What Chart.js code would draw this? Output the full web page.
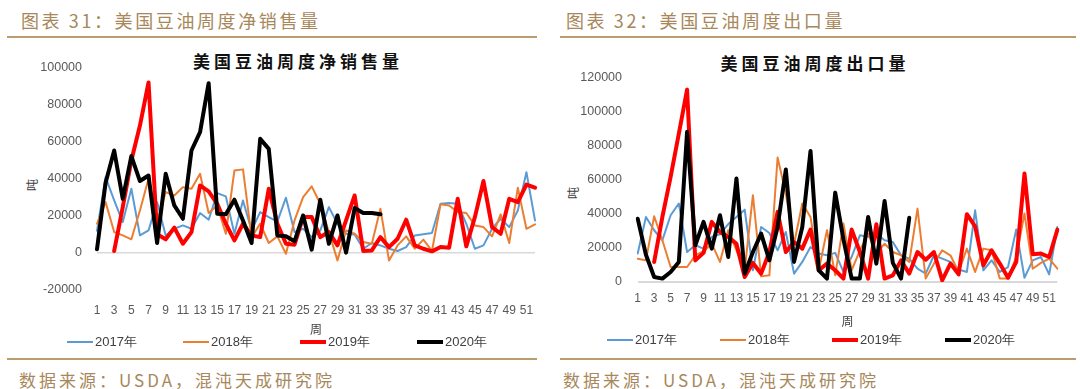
<!DOCTYPE html>
<html>
<head>
<meta charset="utf-8">
<script src="https://cdn.jsdelivr.net/npm/chart.js@4/dist/chart.umd.min.js"></script>
<style>
  body{margin:0;background:#fff;width:1080px;height:389px;position:relative;overflow:hidden;font-family:"Noto Sans CJK SC","Liberation Sans",sans-serif}
  .hd{position:absolute;top:7px;font-size:18px;letter-spacing:2.6px;color:#a8875a;white-space:nowrap}
  .rule{position:absolute;height:2px;background:#bb9c6e}
  .src{position:absolute;top:367px;font-size:17px;letter-spacing:3px;color:#a8875a;white-space:nowrap}
  .ttl{position:absolute;transform:translate(-50%,-50%);font-size:17px;font-weight:bold;letter-spacing:4px;color:#111;white-space:nowrap}
  .yt{position:absolute;transform:translate(-50%,-50%) rotate(-90deg);font-size:12px;color:#404040}
  canvas{position:absolute}
  .lg{position:absolute;display:flex;align-items:center;font-family:"Liberation Sans",sans-serif;font-size:13px;color:#404040;white-space:nowrap}
  .lg i{display:inline-block;width:26px;margin-right:2px}
</style>
</head>
<body>
<div class="hd" style="left:21px">图表 31：美国豆油周度净销售量</div>
<div class="hd" style="left:566px">图表 32：美国豆油周度出口量</div>
<div class="rule" style="left:7px;width:530px;top:36px"></div>
<div class="rule" style="left:560px;width:516px;top:36px"></div>
<div class="ttl" style="left:298px;top:60px">美国豆油周度净销售量</div>
<div class="ttl" style="left:815px;top:62px">美国豆油周度出口量</div>
<div class="yt" style="left:31px;top:185px">吨</div>
<div class="yt" style="left:572px;top:193px">吨</div>
<canvas id="sales" width="540" height="300" style="left:0;top:40px"></canvas>
<canvas id="exports" width="540" height="292" style="left:540px;top:40px"></canvas>
<div id="lg-sales"></div>
<div id="lg-exports"></div>
<div class="rule" style="left:7px;width:530px;top:358px"></div>
<div class="rule" style="left:560px;width:516px;top:358px"></div>
<div class="src" style="left:19px">数据来源：USDA，混沌天成研究院</div>
<div class="src" style="left:563px">数据来源：USDA，混沌天成研究院</div>
<script>
// weeks 1..52
const weeks = ['1','2','3','4','5','6','7','8','9','10','11','12','13','14','15','16','17','18','19','20','21','22','23','24','25','26','27','28','29','30','31','32','33','34','35','36','37','38','39','40','41','42','43','44','45','46','47','48','49','50','51','52'];
const years = ['2017年','2018年','2019年','2020年'];

// net sales (tonnes)
const sales2017 = [12000,41000,28400,16700,34700,9500,12200,27500,9500,13100,14900,13100,21600,18000,32400,30600,10400,28400,12200,22100,19400,17000,29900,11300,13100,8600,12200,24800,15800,10400,10000,2300,5400,4100,2300,1100,3200,9500,10100,10800,26600,27000,26600,15800,2300,4100,13100,18500,14000,23000,43700,17600];
const sales2018 = [15800,27500,11300,9500,7400,23000,40100,17600,32900,31100,35600,34700,42800,21600,25700,10400,44600,45200,8600,15800,5400,9000,-400,17600,30200,36000,26600,11300,-4000,12200,10400,5900,5000,23900,-4000,4100,9000,2300,7200,1100,26300,25700,22100,21600,14900,14000,9000,20900,5400,35300,13100,15500];
const sales2019 = [null,null,1100,24800,50000,68900,92200,10100,7400,13700,5000,11300,36500,33300,26600,15800,6800,15800,9500,8600,34700,15800,5000,4500,19400,19400,8600,11300,4100,17600,31100,1100,1400,8600,3200,7700,18000,4100,2300,900,3200,2900,29300,3600,19400,38900,14000,10400,29300,27500,37000,35300];
const sales2020 = [2000,38000,55400,29300,52400,38900,41900,5400,42800,25700,18500,55400,65300,91800,21200,20900,28800,17600,5400,61700,56300,9500,9000,6300,20300,1800,28800,5000,20300,200,24300,21600,21600,20900];

// exports (tonnes)
const exp2017 = [16700,38200,30400,24500,39200,46100,17600,21600,19600,26500,28000,34000,38200,42500,6900,32300,28800,18600,29400,4900,11800,20600,16700,15700,17100,5900,14700,27400,26500,28400,24500,23500,15700,13700,7800,4900,15700,13700,11800,7300,5900,42100,6900,12700,5900,8800,30800,2500,12700,14700,4500,32300];
const exp2018 = [13700,12700,38600,24500,8800,8800,8800,15700,18000,22500,11800,30400,18600,6900,51000,3300,3900,73100,51900,22500,46100,38200,6900,30400,3900,34300,6900,18600,28400,16700,22500,17600,15700,11800,43100,2000,10800,18600,15700,5900,19600,5900,19600,18600,2000,2000,14700,40200,7800,11200,13700,7800];
const exp2019 = [null,null,11800,38200,61700,87200,113000,12700,17100,35300,29400,26500,22500,2900,11200,4900,17600,41200,17600,23500,19600,30800,6900,10800,6900,2000,30800,17600,2000,33900,2000,3900,12700,4900,17600,13100,17600,1000,10800,4500,39800,32700,9800,18600,10800,2500,11800,63700,16300,16700,14700,30800];
const exp2020 = [37200,16000,2900,2000,5900,11800,88200,21600,35300,19600,39200,14700,60800,4900,17600,28400,12700,32300,66100,11800,32300,77000,6900,2000,52500,25000,2000,2000,38200,10800,47600,11200,2000,37800];

const colors = ['#5b9bd5','#ed7d31','#ff0000','#000000'];
const widths = [2,2,4,4];

function makeDatasets(series){
  return series.map((d,i)=>({
    label: years[i], data: d, borderColor: colors[i], borderWidth: widths[i],
    pointRadius: 0, tension: 0, fill: false, spanGaps: false,
    borderJoinStyle: 'round', borderCapStyle: 'round', order: 3-i
  }));
}

function makeChart(id, series, cfg){
  const tickFont = {family: '"Liberation Sans", Arial, sans-serif', size: 12.5};
  return new Chart(document.getElementById(id), {
    type: 'line',
    data: { labels: weeks, datasets: makeDatasets(series) },
    options: {
      responsive: false, animation: false,
      layout: { padding: cfg.pad },
      plugins: { legend: {display:false}, tooltip: {enabled:false}, title: {display:false} },
      scales: {
        x: {
          grid: {display:false}, border: {display:false},
          ticks: { autoSkip:false, maxRotation:0, minRotation:0, padding: cfg.xPad, color:'#595959', font: {family: tickFont.family, size: 12},
            callback: function(v,i){ return i%2===0 ? this.getLabelForValue(v) : ''; } },
          title: { display:true, text:'周', color:'#404040', font:{family:'"Noto Sans CJK SC"', size:12}, padding:{top:0,bottom:cfg.xTitle} },
          afterFit: s => { s.height = 50; }
        },
        y: {
          min: cfg.min, max: cfg.max,
          border: {display:false},
          grid: { drawTicks:false, lineWidth: cfg.zeroW, color: c => c.tick && c.tick.value===0 ? '#d9d9d9' : 'transparent' },
          ticks: { stepSize: 20000, padding: cfg.yPad, color:'#595959', font: tickFont, callback: v => String(v) },
          afterFit: s => { s.width = cfg.yW; }
        }
      }
    }
  });
}

makeChart('sales', [sales2017, sales2018, sales2019, sales2020],
  {pad:{top:28,right:4.4,bottom:0,left:0}, min:-20000, max:100000, xPad:5, xTitle:3, yPad:15, yW:97, zeroW:1.5});
makeChart('exports', [exp2017, exp2018, exp2019, exp2020],
  {pad:{top:37.7,right:22.6,bottom:0,left:0}, min:0, max:120000, xPad:1, xTitle:3.5, yPad:15.7, yW:97.7, zeroW:2});

// legends
function legend(elId, top, xs){
  const host = document.getElementById(elId);
  years.forEach((y,i)=>{
    const d = document.createElement('div');
    d.className = 'lg';
    d.style.left = xs[i]+'px'; d.style.top = (top-9)+'px';
    d.innerHTML = `<i style="height:${widths[i]===4?4:2}px;background:${colors[i]}"></i>${y}`;
    host.appendChild(d);
  });
}
legend('lg-sales', 342, [67,183,300,417]);
legend('lg-exports', 340, [607,720,832,945]);
</script>
</body>
</html>
